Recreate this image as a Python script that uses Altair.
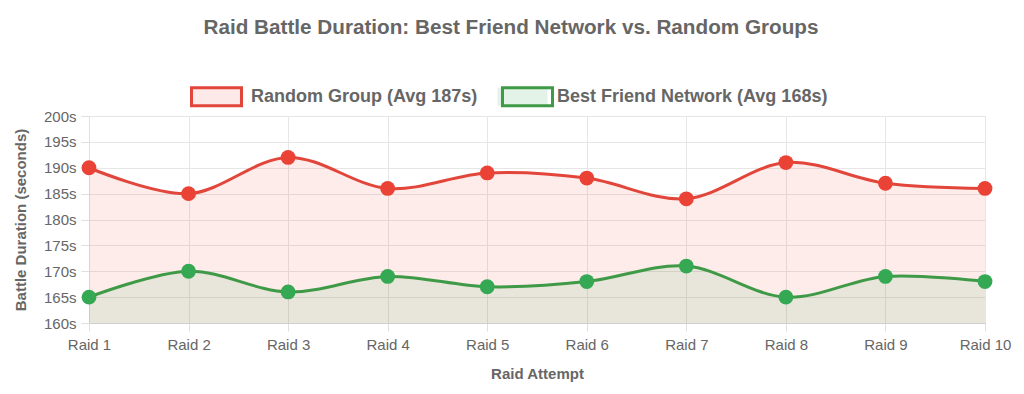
import altair as alt
import pandas as pd

raids = [f"Raid {i}" for i in range(1, 11)]
random_group = [190, 185, 192, 186, 189, 188, 184, 191, 187, 186]
best_friend = [165, 170, 166, 169, 167, 168, 171, 165, 169, 168]
series_names = ["Random Group (Avg 187s)", "Best Friend Network (Avg 168s)"]
line_colors = ["#e2453a", "#3f9a47"]
point_colors = ["#ea4335", "#34a853"]
legend_fills = ["#fde9e8", "#e4f3e7"]

rows = []
for name, vals in zip(series_names, [random_group, best_friend]):
    for r, v in zip(raids, vals):
        rows.append({"raid": r, "value": v, "series": name, "s2": name})
df = pd.DataFrame(rows)

FONT = "Liberation Sans"
x = alt.X("raid:N", sort=raids, scale=alt.Scale(padding=0),
          axis=alt.Axis(title="Raid Attempt", labelAngle=0, labelFontSize=15,
                        labelColor="#666", titleFontSize=15, titleColor="#666",
                        titleFontWeight="bold", grid=True, gridColor="#e6e6e6",
                        domainColor="#cfcfcf", tickColor="#e0e0e0", tickSize=8,
                        labelPadding=6, titlePadding=14, labelFont=FONT, titleFont=FONT))
y = alt.Y("value:Q", scale=alt.Scale(domain=[160, 200], zero=False, nice=False),
          axis=alt.Axis(title="Battle Duration (seconds)", values=list(range(160, 201, 5)),
                        labelExpr="datum.value + 's'", labelFontSize=15, labelColor="#666",
                        titleFontSize=15, titleColor="#666", titleFontWeight="bold",
                        gridColor="#e6e6e6", domainColor="#e0e0e0", tickColor="#e0e0e0",
                        tickSize=8, labelPadding=5, titlePadding=15,
                        labelFont=FONT, titleFont=FONT))

legend_cfg = dict(orient="none", legendX=101, legendY=-46, direction="horizontal",
                  title=None, labelFontSize=18, labelFontWeight="bold",
                  labelColor="#666", labelFont=FONT, padding=0, labelLimit=400,
                  symbolType="M-1,-0.36H1V0.36H-1Z", symbolSize=2500,
                  symbolStrokeWidth=3, labelOffset=8, symbolOpacity=1)

fill_scale = alt.Scale(domain=series_names, range=point_colors)
base = alt.Chart(df)

area = base.mark_area(interpolate="cardinal", opacity=0.1).encode(
    x=x, y=y, y2=alt.datum(160),
    fill=alt.Fill("s2:N", scale=fill_scale, legend=None),
)
line = base.mark_line(interpolate="cardinal", strokeWidth=3).encode(
    x=x, y=y,
    color=alt.Color("s2:N", sort=series_names,
                    scale=alt.Scale(domain=series_names, range=line_colors),
                    legend=alt.Legend(**legend_cfg, symbolFillColor="transparent",
                                      labelExpr="''", columnPadding=245, zindex=2)),
)
points = base.mark_circle(size=220, opacity=1).encode(
    x=x, y=y,
    fill=alt.Fill("s2:N", scale=fill_scale, legend=None),
)
legend_layer = base.mark_point(size=0, filled=True, opacity=1).encode(
    x=x, y=y,
    fill=alt.Fill("series:N", sort=series_names,
                  scale=alt.Scale(domain=series_names, range=legend_fills),
                  legend=alt.Legend(**legend_cfg, columnPadding=18, zindex=1)),
)

chart = alt.layer(area, line, points, legend_layer).resolve_scale(
    fill="independent"
).properties(
    width=896, height=207,
    autosize=alt.AutoSizeParams(type="none"),
    title=alt.TitleParams("Raid Battle Duration: Best Friend Network vs. Random Groups",
                          fontSize=20.7, fontWeight="bold", color="#666",
                          font=FONT, offset=31, anchor="middle", dx=-26),
    padding={"left": 81, "top": 108, "right": 31, "bottom": 63},
).configure_view(stroke=None).configure(background="white")

chart.save("out.html", embed_options={"renderer": "svg", "actions": False})
